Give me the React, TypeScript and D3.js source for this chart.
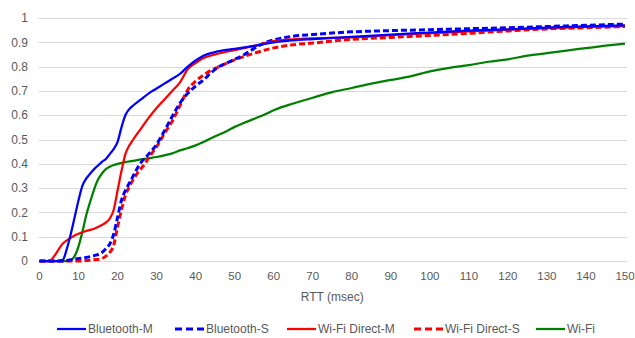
import { useRef, useEffect } from "react";
import * as d3 from "d3";

type Pt = [number, number];

// RTT (msec) vs cumulative fraction
const bluetoothM: Pt[] = [
  [0, 0], [5, 0], [6, 0.005], [7, 0.05], [8, 0.11], [9, 0.18], [10, 0.25], [11, 0.31],
  [12, 0.34], [13, 0.36], [14, 0.378], [15, 0.393], [16, 0.408], [17, 0.42], [18, 0.44],
  [19, 0.46], [20, 0.49], [21, 0.55], [22, 0.6], [23, 0.625], [24, 0.64], [26, 0.665],
  [28, 0.69], [30, 0.71], [32, 0.73], [34, 0.75], [36, 0.77], [38, 0.8], [40, 0.825],
  [42, 0.845], [45, 0.86], [50, 0.873], [55, 0.885], [60, 0.9], [65, 0.908], [70, 0.913],
  [80, 0.922], [90, 0.932], [100, 0.94], [110, 0.948], [120, 0.953], [130, 0.96],
  [140, 0.966], [150, 0.97],
];

const bluetoothS: Pt[] = [
  [0, 0], [6, 0], [8, 0.005], [10, 0.01], [12, 0.015], [14, 0.022], [16, 0.035], [17, 0.05],
  [18, 0.07], [19, 0.11], [20, 0.18], [21, 0.25], [22, 0.29], [23, 0.32], [24, 0.35],
  [25, 0.38], [26, 0.405], [28, 0.44], [30, 0.48], [32, 0.535], [34, 0.595], [36, 0.65],
  [38, 0.69], [40, 0.72], [42, 0.745], [44, 0.775], [46, 0.8], [48, 0.815], [50, 0.83],
  [52, 0.845], [55, 0.875], [58, 0.9], [60, 0.91], [65, 0.925], [70, 0.932], [80, 0.943],
  [90, 0.948], [100, 0.952], [110, 0.956], [120, 0.96], [130, 0.965], [140, 0.97],
  [150, 0.975],
];

const wifiDirectM: Pt[] = [
  [0, 0], [2, 0], [3, 0.005], [4, 0.025], [5, 0.05], [6, 0.072], [7, 0.085], [8, 0.095],
  [9, 0.105], [10, 0.112], [11, 0.118], [12, 0.124], [13, 0.128], [14, 0.133], [15, 0.14],
  [16, 0.148], [17, 0.158], [18, 0.175], [19, 0.21], [20, 0.29], [21, 0.37], [22, 0.44],
  [23, 0.475], [24, 0.5], [26, 0.545], [28, 0.59], [30, 0.63], [32, 0.665], [34, 0.7],
  [36, 0.735], [38, 0.79], [40, 0.815], [42, 0.835], [45, 0.85], [50, 0.868], [55, 0.885],
  [60, 0.905], [65, 0.912], [70, 0.916], [80, 0.92], [90, 0.93], [100, 0.938], [110, 0.945],
  [120, 0.952], [130, 0.958], [140, 0.963], [150, 0.967],
];

const wifiDirectS: Pt[] = [
  [0, 0], [10, 0], [12, 0.002], [14, 0.005], [16, 0.01], [17, 0.02], [18, 0.035], [19, 0.065],
  [20, 0.14], [21, 0.21], [22, 0.27], [23, 0.305], [24, 0.335], [25, 0.36], [26, 0.38],
  [27, 0.4], [28, 0.425], [30, 0.47], [32, 0.525], [34, 0.575], [36, 0.64], [37, 0.675],
  [38, 0.705], [40, 0.74], [42, 0.765], [44, 0.785], [46, 0.8], [48, 0.815], [50, 0.828],
  [55, 0.855], [60, 0.877], [65, 0.89], [70, 0.897], [80, 0.912], [90, 0.92], [100, 0.928],
  [110, 0.937], [120, 0.947], [130, 0.955], [140, 0.96], [150, 0.965],
];

const wifi: Pt[] = [
  [0, 0], [7, 0], [8, 0.003], [9, 0.02], [10, 0.06], [11, 0.12], [12, 0.19], [13, 0.245],
  [14, 0.295], [15, 0.335], [16, 0.36], [17, 0.378], [18, 0.388], [19, 0.395], [20, 0.4],
  [22, 0.407], [24, 0.412], [26, 0.418], [28, 0.423], [30, 0.428], [32, 0.435], [34, 0.443],
  [36, 0.455], [38, 0.465], [40, 0.476], [42, 0.49], [45, 0.513], [48, 0.535], [50, 0.552],
  [52, 0.566], [55, 0.585], [58, 0.605], [60, 0.62], [62, 0.633], [65, 0.648], [70, 0.672],
  [75, 0.695], [80, 0.712], [85, 0.73], [90, 0.745], [95, 0.76], [100, 0.78], [105, 0.795],
  [110, 0.806], [115, 0.82], [120, 0.83], [125, 0.845], [130, 0.855], [135, 0.866],
  [140, 0.876], [145, 0.886], [150, 0.895],
];

const SERIES = [
  { name: "Bluetooth-M", data: bluetoothM, color: "#0000ff", dashed: false },
  { name: "Bluetooth-S", data: bluetoothS, color: "#0000ff", dashed: true },
  { name: "Wi-Fi Direct-M", data: wifiDirectM, color: "#ff0000", dashed: false },
  { name: "Wi-Fi Direct-S", data: wifiDirectS, color: "#ff0000", dashed: true },
  { name: "Wi-Fi", data: wifi, color: "#008000", dashed: false },
];

// draw order: green under, then dashed, then solid
const DRAW_ORDER = [4, 3, 1, 2, 0];

const xTicks = d3.range(0, 151, 10);
const yTicks = d3.range(0, 11).map((i) => i / 10);

const legendX = [57, 175, 287, 414, 536];

const FONT = "'Liberation Sans', Arial, sans-serif";
const TEXT = "#595959";

export default function App() {
  const svgRef = useRef<SVGSVGElement>(null);

  useEffect(() => {
    if (!svgRef.current) return;
    const width = 635;
    const height = 338;
    const margin = { left: 39.5, right: 10, top: 18, bottom: 77 };

    const svg = d3.select(svgRef.current);
    svg.selectAll("*").remove();

    const x = d3.scaleLinear().domain([0, 150]).range([margin.left, width - margin.right]);
    const y = d3.scaleLinear().domain([0, 1]).range([height - margin.bottom, margin.top]);

    svg.append("rect").attr("width", width).attr("height", height).attr("fill", "#fff");

    // gridlines
    svg
      .append("g")
      .selectAll("line")
      .data(yTicks)
      .enter()
      .append("line")
      .attr("x1", x(0) - 1)
      .attr("x2", x(150) + 2)
      .attr("y1", (d) => Math.round(y(d)) + 0.5)
      .attr("y2", (d) => Math.round(y(d)) + 0.5)
      .attr("stroke", "#d9d9d9")
      .attr("stroke-width", 1);

    // y labels
    svg
      .append("g")
      .selectAll("text")
      .data(yTicks)
      .enter()
      .append("text")
      .attr("x", 28)
      .attr("y", (d) => y(d))
      .attr("dy", "0.35em")
      .attr("text-anchor", "end")
      .attr("font-family", FONT)
      .attr("font-size", 12)
      .attr("fill", TEXT)
      .text((d) => (d === 0 ? "0" : d === 1 ? "1" : d3.format(".1f")(d)));

    // x labels
    svg
      .append("g")
      .selectAll("text")
      .data(xTicks)
      .enter()
      .append("text")
      .attr("x", (d) => x(d))
      .attr("y", 280)
      .attr("text-anchor", "middle")
      .attr("font-family", FONT)
      .attr("font-size", 11.5)
      .attr("fill", TEXT)
      .text((d) => String(d));

    svg
      .append("text")
      .attr("x", (x(0) + x(150)) / 2)
      .attr("y", 301)
      .attr("text-anchor", "middle")
      .attr("font-family", FONT)
      .attr("font-size", 12)
      .attr("fill", TEXT)
      .text("RTT (msec)");

    const line = d3
      .line<Pt>()
      .x((d) => x(d[0]))
      .y((d) => y(d[1]))
      .curve(d3.curveMonotoneX);

    DRAW_ORDER.forEach((i) => {
      const s = SERIES[i];
      svg
        .append("path")
        .datum(s.data)
        .attr("d", line)
        .attr("fill", "none")
        .attr("stroke", s.color)
        .attr("stroke-width", s.dashed ? 3 : 2.25)
        .attr("stroke-dasharray", s.dashed ? "6,3" : null)
        .attr("stroke-linejoin", "round");
    });

    // legend
    const ly = 329;
    SERIES.forEach((s, i) => {
      const lx = legendX[i];
      svg
        .append("line")
        .attr("x1", lx)
        .attr("x2", lx + 29)
        .attr("y1", ly)
        .attr("y2", ly)
        .attr("stroke", s.color)
        .attr("stroke-width", s.dashed ? 3 : 2.25)
        .attr("stroke-dasharray", s.dashed ? "7,4" : null);
      svg
        .append("text")
        .attr("x", lx + 31)
        .attr("y", ly)
        .attr("dy", "0.35em")
        .attr("font-family", FONT)
        .attr("font-size", 12)
        .attr("fill", TEXT)
        .text(s.name);
    });
  }, []);

  return (
    <svg
      ref={svgRef}
      width={635}
      height={338}
      style={{ position: "absolute", left: 0, top: 0 }}
    />
  );
}
